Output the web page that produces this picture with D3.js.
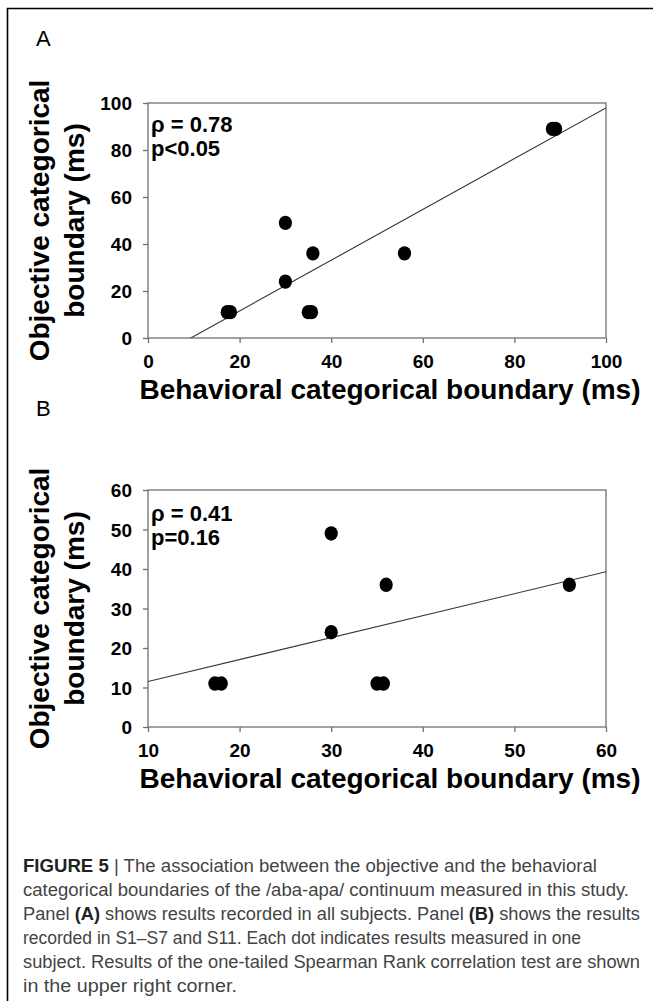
<!DOCTYPE html>
<html>
<head>
<meta charset="utf-8">
<script src="https://cdn.jsdelivr.net/npm/d3@7"></script>
<style>
body { margin: 0; background: #fff; }
text { font-family: "Liberation Sans", Arial, sans-serif; }
.tick text { font-family: "Liberation Sans", Arial, sans-serif; font-weight: bold; font-size: 19px; fill: #000; }
.tick line { stroke: #707070; stroke-width: 1.3; }
.stat { font-weight: bold; font-size: 22px; }
</style>
</head>
<body>
<div id="chart"></div>
<script>
var panelAx = [17.3, 18, 30, 30, 35, 35.7, 36, 56, 88.3, 89]
var panelAy = [11, 11, 49, 24, 11, 11, 36, 36, 89, 89]
var panelBx = [17.3, 18, 30, 30, 35, 35.7, 36, 56]
var panelBy = [11, 11, 49, 24, 11, 11, 36, 36]

// slope, intercept
var fitA = [1.08, -10.1]
var fitB = [0.556, 5.95]

var xTicksA = [0, 20, 40, 60, 80, 100]
var yTicksA = [0, 20, 40, 60, 80, 100]
var xTicksB = [10, 20, 30, 40, 50, 60]
var yTicksB = [0, 10, 20, 30, 40, 50, 60]

var statsA = ['\u03c1 = 0.78', 'p<0.05']
var statsB = ['\u03c1 = 0.41', 'p=0.16']

var xTitle = 'Behavioral categorical boundary (ms)'
var yTitle = ['Objective categorical', 'boundary (ms)']

var caption = [
  [['FIGURE 5', 1], [' | ', 0], ['The association between the objective and the behavioral', 0]],
  [['categorical boundaries of the /aba-apa/ continuum measured in this study.', 0]],
  [['Panel ', 0], ['(A)', 1], [' shows results recorded in all subjects. Panel ', 0], ['(B)', 1], [' shows the results', 0]],
  [['recorded in S1\u2013S7 and S11. Each dot indicates results measured in one', 0]],
  [['subject. Results of the one-tailed Spearman Rank correlation test are shown', 0]],
  [['in the upper right corner.', 0]]
]
var captionWidths = [597, 629, 640, 581, 640, 237]

var W = 653, H = 1001
var svg = d3.select('#chart').append('svg').attr('width', W).attr('height', H)

svg.append('path').attr('d', 'M7.5,1001V8.5H653')
  .attr('fill', 'none').attr('stroke', '#000').attr('stroke-width', 1.6)

function panel(opt){
  var left = 148, right = 606
  var x = d3.scaleLinear().domain(d3.extent(opt.xTicks)).range([left, right])
  var y = d3.scaleLinear().domain(d3.extent(opt.yTicks)).range([opt.bottom, opt.top])
  var g = svg.append('g')

  svg.append('text').text(opt.label)
    .attr('x', 36).attr('y', opt.labelY)
    .attr('font-size', 22)

  g.append('g').attr('transform', 'translate(0,' + opt.bottom + ')')
    .call(d3.axisBottom(x).tickValues(opt.xTicks).tickSize(5).tickPadding(12))
    .call(function(s){ s.select('.domain').remove() })

  g.append('g').attr('transform', 'translate(' + left + ',0)')
    .call(d3.axisLeft(y).tickValues(opt.yTicks).tickSize(5).tickPadding(11))
    .call(function(s){ s.select('.domain').remove() })
    .selectAll('.tick text').attr('dy', '0.36em')

  g.append('rect')
    .attr('x', left).attr('y', opt.top)
    .attr('width', right - left).attr('height', opt.bottom - opt.top)
    .attr('fill', 'none').attr('stroke', '#707070').attr('stroke-width', 1.3)

  var clipId = 'clip' + opt.label
  svg.append('clipPath').attr('id', clipId).append('rect')
    .attr('x', left).attr('y', opt.top)
    .attr('width', right - left).attr('height', opt.bottom - opt.top)

  var fitLine = x.domain().map(function(v){ return [v, opt.fit[0] * v + opt.fit[1]] })
  g.append('path')
    .attr('clip-path', 'url(#' + clipId + ')')
    .attr('d', d3.line().x(function(d){ return x(d[0]) }).y(function(d){ return y(d[1]) })(fitLine))
    .attr('fill', 'none').attr('stroke', '#333').attr('stroke-width', 1.1)

  var pts = opt.xs.map(function(v, i){ return {x: v, y: opt.ys[i]} })
  g.selectAll('ellipse.dot').data(pts).enter().append('ellipse')
    .attr('class', 'dot')
    .attr('cx', function(d){ return x(d.x) })
    .attr('cy', function(d){ return y(d.y) })
    .attr('rx', 6.6).attr('ry', 7.2)
    .attr('fill', '#000')

  g.selectAll('text.stat').data(opt.stats).enter().append('text')
    .attr('class', 'stat')
    .attr('x', left + 3)
    .attr('y', function(d, i){ return opt.top + opt.statY + i * 24 })
    .text(function(d){ return d })

  svg.append('text').text(xTitle)
    .attr('x', 390).attr('y', opt.bottom + 61)
    .attr('text-anchor', 'middle')
    .attr('font-size', 28).attr('font-weight', 'bold')

  var cy = (opt.top + opt.bottom) / 2
  yTitle.forEach(function(t, i){
    svg.append('text').text(t)
      .attr('transform', 'translate(' + (49 + i * 35) + ',' + cy + ') rotate(-90)')
      .attr('text-anchor', 'middle')
      .attr('font-size', 28).attr('font-weight', 'bold')
  })
}

panel({label: 'A', labelY: 46, top: 103, bottom: 338, xTicks: xTicksA, yTicks: yTicksA,
  xs: panelAx, ys: panelAy, fit: fitA, stats: statsA, statY: 29})
panel({label: 'B', labelY: 416, top: 490, bottom: 727, xTicks: xTicksB, yTicks: yTicksB,
  xs: panelBx, ys: panelBy, fit: fitB, stats: statsB, statY: 31})

var cap = svg.append('g')
caption.forEach(function(line, i){
  var t = cap.append('text')
    .attr('x', 23).attr('y', 872 + i * 24)
    .attr('font-size', 17.5)
    .attr('textLength', captionWidths[i] - 23)
    .attr('lengthAdjust', 'spacingAndGlyphs')
  line.forEach(function(p){
    t.append('tspan').text(p[0]).attr('font-weight', p[1] ? 'bold' : 'normal')
      .attr('fill', p[1] ? '#222' : '#444')
  })
})
</script>
</body>
</html>
